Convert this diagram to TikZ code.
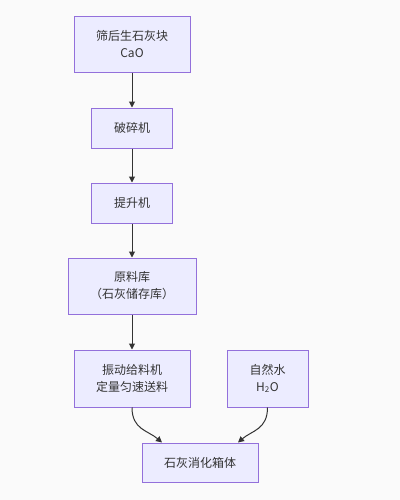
\documentclass[tikz,border=0pt]{standalone}
\usepackage{fontspec}
\setmainfont{Noto Sans CJK SC}
\usetikzlibrary{arrows.meta}
\definecolor{boxfill}{HTML}{ECECFF}
\definecolor{boxline}{HTML}{9370DB}
\definecolor{ink}{HTML}{333333}
\definecolor{paper}{HTML}{FAFAFA}
\begin{document}
\begin{tikzpicture}[x=0.75pt,y=-0.75pt]
			\tikzstyle{every node}+=[inner sep=0pt]
			\tikzstyle{box}=[draw=boxline,fill=boxfill,line width=0.75pt,align=center,text=ink,font=\fontsize{9}{12.75}\selectfont]
			\tikzstyle{flow}=[draw=ink,line width=0.75pt,-{Triangle[length=4.5pt,width=4.5pt]}]
			\fill [paper] (0,0) rectangle (400,500);
			\useasboundingbox (0,0) rectangle (400,500);
			\node [box,minimum width=87pt,minimum height=42pt] (lime) at (132,44) {筛后生石灰块\\CaO};
			\node [box,minimum width=60.75pt,minimum height=30pt] (crusher) at (132,128) {破碎机};
			\node [box,minimum width=60.75pt,minimum height=30pt] (lifter) at (132,203) {提升机};
			\node [box,minimum width=96pt,minimum height=42pt] (store) at (132,286) {原料库\\（石灰储存库）};
			\node [box,minimum width=87pt,minimum height=42.75pt] (feeder) at (132,378.5) {振动给料机\\定量匀速送料};
			\node [box,minimum width=60.75pt,minimum height=42.75pt] (water) at (267.5,378.5) {自然水\\H\textsubscript{2}O};
			\node [box,minimum width=87pt,minimum height=29.25pt] (slaker) at (200,462.5) {石灰消化箱体};
			\coordinate (slakerin1) at ([xshift=-28.5pt]slaker.north);
			\coordinate (slakerin2) at ([xshift=28.5pt]slaker.north);
			\draw [flow] (lime) -- (crusher);
			\draw [flow] (crusher) -- (lifter);
			\draw [flow] (lifter) -- (store);
			\draw [flow] (store) -- (feeder);
			\draw [flow] (feeder.south) .. controls +(0,22) and +(-14,-12) .. (slakerin1);
			\draw [flow] (water.south) .. controls +(0,22) and +(14,-12) .. (slakerin2);
\end{tikzpicture}
\end{document}
